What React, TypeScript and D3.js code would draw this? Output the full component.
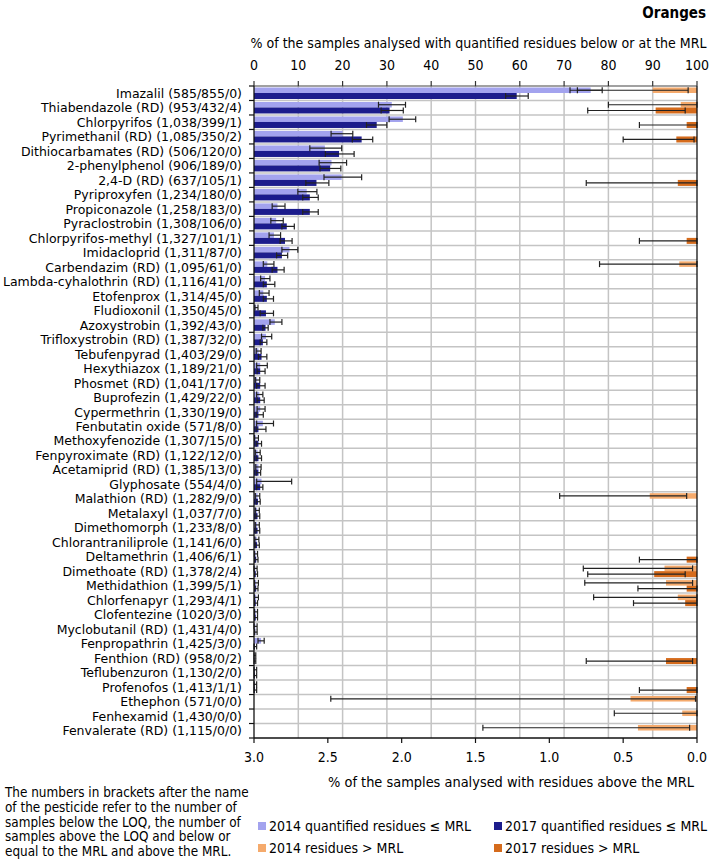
import React from "react";
import * as d3 from "d3";

const pesticides = [
  "Imazalil (585/855/0)",
  "Thiabendazole (RD) (953/432/4)",
  "Chlorpyrifos (1,038/399/1)",
  "Pyrimethanil (RD) (1,085/350/2)",
  "Dithiocarbamates (RD) (506/120/0)",
  "2-phenylphenol (906/189/0)",
  "2,4-D (RD) (637/105/1)",
  "Pyriproxyfen (1,234/180/0)",
  "Propiconazole (1,258/183/0)",
  "Pyraclostrobin (1,308/106/0)",
  "Chlorpyrifos-methyl (1,327/101/1)",
  "Imidacloprid (1,311/87/0)",
  "Carbendazim (RD) (1,095/61/0)",
  "Lambda-cyhalothrin (RD) (1,116/41/0)",
  "Etofenprox (1,314/45/0)",
  "Fludioxonil (1,350/45/0)",
  "Azoxystrobin (1,392/43/0)",
  "Trifloxystrobin (RD) (1,387/32/0)",
  "Tebufenpyrad (1,403/29/0)",
  "Hexythiazox (1,189/21/0)",
  "Phosmet (RD) (1,041/17/0)",
  "Buprofezin (1,429/22/0)",
  "Cypermethrin (1,330/19/0)",
  "Fenbutatin oxide (571/8/0)",
  "Methoxyfenozide (1,307/15/0)",
  "Fenpyroximate (RD) (1,122/12/0)",
  "Acetamiprid (RD) (1,385/13/0)",
  "Glyphosate (554/4/0)",
  "Malathion (RD) (1,282/9/0)",
  "Metalaxyl (1,037/7/0)",
  "Dimethomorph (1,233/8/0)",
  "Chlorantraniliprole (1,141/6/0)",
  "Deltamethrin (1,406/6/1)",
  "Dimethoate (RD) (1,378/2/4)",
  "Methidathion (1,399/5/1)",
  "Chlorfenapyr (1,293/4/1)",
  "Clofentezine (1020/3/0)",
  "Myclobutanil (RD) (1,431/4/0)",
  "Fenpropathrin (1,425/3/0)",
  "Fenthion (RD) (958/0/2)",
  "Teflubenzuron (1,130/2/0)",
  "Profenofos (1,413/1/1)",
  "Ethephon (571/0/0)",
  "Fenhexamid (1,430/0/0)",
  "Fenvalerate (RD) (1,115/0/0)",
];

// % quantified residues <= MRL, 2014
const q2014 = [76.0, 31.1, 33.6, 20.0, 16.0, 17.5, 19.8, 11.9, 5.3, 5.0, 4.5, 8.0, 3.0, 2.5, 2.1, 0.5, 4.7, 2.7, 1.0, 1.4, 0.7, 1.2, 1.4, 2.0, 0.5, 0.8, 1.0, 1.7, 0.8, 0.7, 0.7, 0.6, 0.4, 0.3, 0.5, 0.5, 0.4, 0.3, 1.6, 0.1, 0.2, 0.2, 0, 0, 0];
const q2014Lo = [73.0, 28.1, 30.5, 17.4, 12.6, 14.7, 15.8, 9.9, 4.1, 3.8, 3.4, 6.3, 2.1, 1.5, 1.2, 0.2, 3.6, 1.7, 0.5, 0.6, 0.3, 0.6, 0.7, 0.6, 0.1, 0.3, 0.4, 0.6, 0.3, 0.3, 0.3, 0.2, 0.1, 0.0, 0.1, 0.1, 0.1, 0.0, 0.9, 0.0, 0.0, 0.0, 0, 0, 0];
const q2014Hi = [78.6, 34.2, 36.5, 22.3, 19.8, 20.9, 24.3, 14.2, 7.0, 6.6, 6.0, 9.9, 4.5, 3.6, 3.4, 0.9, 6.3, 4.0, 1.6, 3.0, 1.3, 2.0, 2.5, 4.4, 1.0, 1.4, 1.6, 8.5, 1.3, 1.2, 1.2, 1.1, 0.8, 0.7, 1.0, 1.0, 0.8, 0.7, 2.3, 0.4, 0.6, 0.6, 0, 0, 0];

// % quantified residues <= MRL, 2017
const q2017 = [59.3, 30.6, 27.7, 24.3, 19.2, 17.2, 14.1, 12.6, 12.6, 7.4, 7.0, 6.3, 5.3, 2.9, 2.9, 2.7, 2.6, 2.0, 1.7, 1.4, 1.4, 1.4, 1.0, 1.0, 1.0, 1.0, 1.0, 1.4, 0.9, 0.8, 0.8, 0.7, 0.5, 0.4, 0.5, 0.4, 0.4, 0.3, 0.2, 0.1, 0.2, 0.2, 0, 0, 0];
const q2017Lo = [56.8, 28.7, 25.4, 22.2, 16.1, 14.9, 11.7, 11.0, 11.0, 6.3, 5.9, 5.1, 4.1, 2.1, 2.1, 1.4, 2.0, 1.4, 1.0, 0.7, 0.6, 0.7, 0.5, 0.5, 0.5, 0.5, 0.5, 0.6, 0.5, 0.4, 0.4, 0.3, 0.2, 0.1, 0.2, 0.1, 0.1, 0.1, 0.0, 0.0, 0.0, 0.0, 0, 0, 0];
const q2017Hi = [61.9, 33.7, 30.0, 26.8, 22.6, 19.6, 16.9, 14.5, 14.5, 9.1, 8.6, 7.6, 6.8, 4.7, 4.4, 4.4, 3.2, 2.9, 2.9, 2.5, 2.5, 2.3, 2.1, 2.7, 1.7, 1.7, 1.5, 2.0, 1.4, 1.3, 1.3, 1.2, 0.9, 0.8, 0.9, 0.8, 0.8, 0.7, 0.6, 0.4, 0.6, 0.6, 0, 0, 0];

// % residues above MRL, 2014
const a2014 = [0.30, 0.11, 0, 0, 0, 0, 0, 0, 0, 0, 0, 0, 0.12, 0, 0, 0, 0, 0, 0, 0, 0, 0, 0, 0, 0, 0, 0, 0, 0.32, 0, 0, 0, 0, 0.22, 0.21, 0.13, 0, 0, 0, 0, 0, 0, 0.45, 0.10, 0.40];
const a2014Lo = [0.06, 0.0, 0, 0, 0, 0, 0, 0, 0, 0, 0, 0, 0.0, 0, 0, 0, 0, 0, 0, 0, 0, 0, 0, 0, 0, 0, 0, 0, 0.07, 0, 0, 0, 0, 0.03, 0.03, 0.0, 0, 0, 0, 0, 0, 0, 0.01, 0.0, 0.05];
const a2014Hi = [0.86, 0.60, 0, 0, 0, 0, 0, 0, 0, 0, 0, 0, 0.66, 0, 0, 0, 0, 0, 0, 0, 0, 0, 0, 0, 0, 0, 0, 0, 0.93, 0, 0, 0, 0, 0.77, 0.76, 0.70, 0, 0, 0, 0, 0, 0, 2.48, 0.56, 1.45];

// % residues above MRL, 2017
const a2017 = [0, 0.28, 0.07, 0.14, 0, 0, 0.13, 0, 0, 0, 0.07, 0, 0, 0, 0, 0, 0, 0, 0, 0, 0, 0, 0, 0, 0, 0, 0, 0, 0, 0, 0, 0, 0.07, 0.29, 0.07, 0.08, 0, 0, 0, 0.21, 0, 0.07, 0, 0, 0];
const a2017Lo = [0, 0.08, 0.0, 0.02, 0, 0, 0.0, 0, 0, 0, 0.0, 0, 0, 0, 0, 0, 0, 0, 0, 0, 0, 0, 0, 0, 0, 0, 0, 0, 0, 0, 0, 0, 0.0, 0.08, 0.0, 0.0, 0, 0, 0, 0.03, 0, 0.0, 0, 0, 0];
const a2017Hi = [0, 0.74, 0.39, 0.50, 0, 0, 0.75, 0, 0, 0, 0.39, 0, 0, 0, 0, 0, 0, 0, 0, 0, 0, 0, 0, 0, 0, 0, 0, 0, 0, 0, 0, 0, 0.39, 0.74, 0.40, 0.43, 0, 0, 0, 0.75, 0, 0.39, 0, 0, 0];

const topTicks = [0, 10, 20, 30, 40, 50, 60, 70, 80, 90, 100];
const bottomTicks = [3.0, 2.5, 2.0, 1.5, 1.0, 0.5, 0.0];

const legendItems = [
  { label: "2014 quantified residues ≤ MRL", color: "#a3a3ee" },
  { label: "2017 quantified residues ≤ MRL", color: "#1c1c8c" },
  { label: "2014 residues > MRL", color: "#f5aa6c" },
  { label: "2017 residues > MRL", color: "#d56b1c" },
];

const noteLines = [
  "The numbers in brackets after the name",
  "of the pesticide refer to the number of",
  "samples below the LOQ, the number of",
  "samples above the LOQ and below or",
  "equal to the MRL and above the MRL.",
];

const COND = "'DejaVu Sans Condensed', 'DejaVu Sans', sans-serif";
const VERD = "'DejaVu Sans', Verdana, sans-serif";

export default function App() {
  const W = 709;
  const H = 860;
  const left = 254;
  const right = 697;
  const top = 86;
  const bottom = 738;

  const xTop = d3.scaleLinear().domain([0, 100]).range([left, right]);
  const xBot = d3.scaleLinear().domain([0, 3]).range([right, left]);
  const y = d3.scaleBand<string>().domain(pesticides).range([top, bottom]).padding(0);
  const bw = y.bandwidth();

  const grid = "#c4c4c4";
  const errColor = "#222";

  const lightY = (p: string) => (y(p) as number) + 1.5;
  const lightH = 5.5;
  const darkY = (p: string) => (y(p) as number) + 7;
  const darkH = 6;

  const errBar = (key: string, x1: number, x2: number, cy: number) => (
    <g key={key} stroke={errColor} strokeWidth={1.2}>
      <line x1={x1} x2={x2} y1={cy} y2={cy} />
      <line x1={x1} x2={x1} y1={cy - 3} y2={cy + 3} />
      <line x1={x2} x2={x2} y1={cy - 3} y2={cy + 3} />
    </g>
  );

  return (
    <svg width={W} height={H} style={{ position: "absolute", left: 0, top: 0, background: "#fff" }}>
      <rect x={0} y={0} width={W} height={H} fill="#fff" />
      <text x={706} y={18} textAnchor="end" fontFamily={COND} fontWeight="bold" fontSize={15}>
        Oranges
      </text>
      <text
        x={(250 + 707) / 2}
        y={48}
        textAnchor="middle"
        fontFamily={COND}
        fontSize={14}
        textLength={456}
        lengthAdjust="spacingAndGlyphs"
      >
        % of the samples analysed with quantified residues below or at the MRL
      </text>

      {topTicks
        .filter((t) => t > 0 && t < 100)
        .map((t) => (
          <line key={"vg" + t} x1={xTop(t)} x2={xTop(t)} y1={top} y2={bottom} stroke={grid} strokeWidth={1.5} />
        ))}
      {pesticides.slice(1).map((p) => (
        <line key={"hg" + p} x1={left} x2={right} y1={y(p)} y2={y(p)} stroke={grid} strokeWidth={1.5} />
      ))}

      {pesticides.map((p, i) =>
        q2014[i] > 0 ? (
          <rect key={"q14" + i} x={left} y={lightY(p)} width={xTop(q2014[i]) - left} height={lightH} fill={legendItems[0].color} />
        ) : null
      )}
      {pesticides.map((p, i) =>
        q2017[i] > 0 ? (
          <rect key={"q17" + i} x={left} y={darkY(p)} width={xTop(q2017[i]) - left} height={darkH} fill={legendItems[1].color} />
        ) : null
      )}
      {pesticides.map((p, i) =>
        a2014[i] > 0 ? (
          <rect key={"a14" + i} x={xBot(a2014[i])} y={lightY(p)} width={right - xBot(a2014[i])} height={lightH} fill={legendItems[2].color} />
        ) : null
      )}
      {pesticides.map((p, i) =>
        a2017[i] > 0 ? (
          <rect key={"a17" + i} x={xBot(a2017[i])} y={darkY(p)} width={right - xBot(a2017[i])} height={darkH} fill={legendItems[3].color} />
        ) : null
      )}

      {pesticides.map((p, i) =>
        q2014[i] > 0 ? errBar("e14" + i, xTop(q2014Lo[i]), xTop(q2014Hi[i]), lightY(p) + lightH / 2) : null
      )}
      {pesticides.map((p, i) =>
        q2017[i] > 0 ? errBar("e17" + i, xTop(q2017Lo[i]), xTop(q2017Hi[i]), darkY(p) + darkH / 2) : null
      )}
      {pesticides.map((p, i) =>
        a2014[i] > 0 ? errBar("ea14" + i, xBot(a2014Hi[i]), xBot(a2014Lo[i]), lightY(p) + lightH / 2) : null
      )}
      {pesticides.map((p, i) =>
        a2017[i] > 0 ? errBar("ea17" + i, xBot(a2017Hi[i]), xBot(a2017Lo[i]), darkY(p) + darkH / 2) : null
      )}

      <line x1={left} x2={right} y1={top} y2={top} stroke="#444" strokeWidth={1.2} />
      {topTicks.map((t) => (
        <g key={"tt" + t}>
          <line x1={xTop(t)} x2={xTop(t)} y1={top - 5} y2={top} stroke="#333" strokeWidth={1.2} />
          <text x={xTop(t)} y={70} textAnchor="middle" fontFamily={COND} fontSize={14}>
            {t}
          </text>
        </g>
      ))}

      <line x1={left} x2={left} y1={top} y2={bottom} stroke="#111" strokeWidth={1.3} />
      {pesticides.map((p) => (
        <line key={"lt" + p} x1={left - 5} x2={left} y1={y(p)} y2={y(p)} stroke="#111" strokeWidth={1.2} />
      ))}
      <line x1={left - 5} x2={left} y1={bottom} y2={bottom} stroke="#111" strokeWidth={1.2} />
      <line x1={right} x2={right} y1={top} y2={bottom} stroke="#111" strokeWidth={1.3} />

      {pesticides.map((p) => (
        <text key={"lab" + p} x={242} y={(y(p) as number) + bw / 2 + 4.5} textAnchor="end" fontFamily={VERD} fontSize={12.5}>
          {p}
        </text>
      ))}

      <line x1={left} x2={right} y1={bottom} y2={bottom} stroke="#111" strokeWidth={1.3} />
      {bottomTicks.map((t) => (
        <g key={"bt" + t}>
          <line x1={xBot(t)} x2={xBot(t)} y1={bottom} y2={bottom + 5} stroke="#111" strokeWidth={1.2} />
          <text x={xBot(t)} y={762} textAnchor="middle" fontFamily={COND} fontSize={14}>
            {t.toFixed(1)}
          </text>
        </g>
      ))}
      <text
        x={(328 + 694) / 2}
        y={787}
        textAnchor="middle"
        fontFamily={COND}
        fontSize={14}
        textLength={366}
        lengthAdjust="spacingAndGlyphs"
      >
        % of the samples analysed with residues above the MRL
      </text>

      {noteLines.map((l, i) => (
        <text key={"n" + i} x={5} y={797 + i * 14.8} fontFamily={COND} fontSize={13.4}>
          {l}
        </text>
      ))}

      {legendItems.map((it, i) => {
        const col = i % 2;
        const row = Math.floor(i / 2);
        const lx = col === 0 ? 258 : 494;
        const ly = row === 0 ? 826 : 848;
        return (
          <g key={"lg" + i}>
            <rect x={lx} y={ly - 4} width={8} height={8} fill={it.color} />
            <text x={lx + 11} y={ly + 5} fontFamily={COND} fontSize={14}>
              {it.label}
            </text>
          </g>
        );
      })}
    </svg>
  );
}
